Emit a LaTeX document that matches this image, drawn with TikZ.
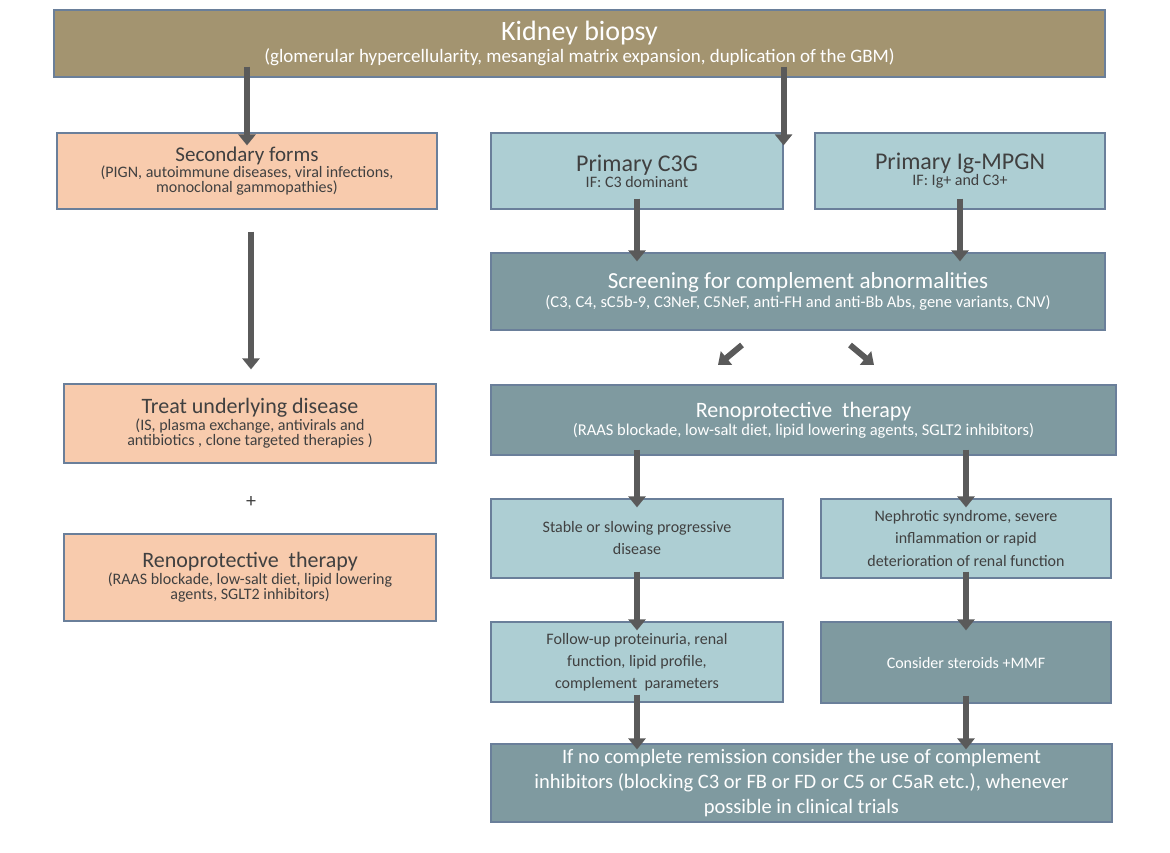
\documentclass[tikz,border=0pt]{standalone}
\usepackage{fontspec}
\setmainfont{Carlito}
\usetikzlibrary{arrows.meta}
\definecolor{brn}{HTML}{A39470}
\definecolor{pch}{HTML}{F8CBAD}
\definecolor{lt}{HTML}{ADCED3}
\definecolor{dk}{HTML}{7F9AA0}
\definecolor{bd}{HTML}{6A7F9A}
\definecolor{txt}{HTML}{404040}
\definecolor{arr}{HTML}{5A5A5A}
\tikzset{
 bx/.style={draw=bd,line width=1.2pt,inner sep=0pt,align=center,text=txt},
 blk/.style={arr,line width=6pt,-{Triangle[width=17pt,length=11pt]}},
}
\newcommand{\bxat}[7]{\node[bx,fill=#6,text=#7,minimum width={#4-#2},minimum height={#5-#3}] (#1) at ({(#2+#4)/2},{(#3+#5)/2}) {};}
\begin{document}
\begin{tikzpicture}[x=1pt,y=-1pt]
\useasboundingbox (0,0) rectangle (1170,853);
\bxat{kid}{54}{10}{1105}{77}{brn}{white}
\node[align=center,text=white] at (kid) {{\fontsize{28}{32}\selectfont Kidney biopsy}\\[2pt]{\fontsize{19}{22}\selectfont (glomerular hypercellularity, mesangial matrix expansion, duplication of the GBM)}};
\bxat{sec}{57}{133}{437}{209}{pch}{txt}
\node[align=center,text=txt] at (sec) {{\fontsize{21}{24}\selectfont Secondary forms}\\{\fontsize{16}{19}\selectfont (PIGN, autoimmune diseases, viral infections,}\\{\fontsize{16}{19}\selectfont monoclonal gammopathies)}};
\bxat{c3g}{491}{133}{783}{209}{lt}{txt}
\node[align=center,text=txt] at (c3g) {{\fontsize{24}{27}\selectfont Primary C3G}\\{\fontsize{16}{19}\selectfont IF: C3 dominant}};
\bxat{ig}{815}{133}{1105}{209}{lt}{txt}
\node[align=center,text=txt] at (ig) {{\fontsize{24}{27}\selectfont Primary Ig-MPGN}\\{\fontsize{16}{19}\selectfont IF: Ig+ and C3+}};
\bxat{scr}{491}{253}{1105}{330}{dk}{white}
\node[align=center,text=white] at (scr) {{\fontsize{23}{27}\selectfont Screening for complement abnormalities}\\[2pt]{\fontsize{16.5}{19}\selectfont (C3, C4, sC5b-9, C3NeF, C5NeF, anti-FH and anti-Bb Abs, gene variants, CNV)}};
\bxat{trt}{64}{384}{436}{463}{pch}{txt}
\node[align=center,text=txt] at (trt) {{\fontsize{22}{25}\selectfont Treat underlying disease}\\{\fontsize{16}{20}\selectfont (IS, plasma exchange, antivirals and}\\{\fontsize{16}{20}\selectfont antibiotics , clone targeted therapies )}};
\node[text=txt,font=\fontsize{20}{22}\selectfont] (plus) at (251,502) {+};
\bxat{rnl}{64}{534}{436}{621}{pch}{txt}
\node[align=center,text=txt] at (rnl) {{\fontsize{22}{25}\selectfont Renoprotective\ \ therapy}\\{\fontsize{16}{19}\selectfont (RAAS blockade, low-salt diet, lipid lowering}\\{\fontsize{16}{19}\selectfont agents, SGLT2 inhibitors)}};
\bxat{rnr}{491}{385}{1116}{455}{dk}{white}
\node[align=center,text=white] at (rnr) {{\fontsize{22}{25}\selectfont Renoprotective\ \ therapy}\\[1pt]{\fontsize{16.5}{19}\selectfont (RAAS blockade, low-salt diet, lipid lowering agents, SGLT2 inhibitors)}};
\bxat{stb}{491}{499}{783}{578}{lt}{txt}
\node[align=center,text=txt,font=\fontsize{16}{22}\selectfont] at (stb) {Stable or slowing progressive\\disease};
\bxat{nep}{821}{499}{1111}{578}{lt}{txt}
\node[align=center,text=txt,font=\fontsize{16}{22}\selectfont] at (nep) {Nephrotic syndrome, severe\\inflammation or rapid\\deterioration of renal function};
\bxat{fol}{491}{622}{783}{702}{lt}{txt}
\node[align=center,text=txt,font=\fontsize{16}{22}\selectfont] at (fol) {Follow-up proteinuria, renal\\function, lipid profile,\\complement\ \ parameters};
\bxat{con}{821}{622}{1111}{703}{dk}{white}
\node[align=center,text=white,font=\fontsize{16}{22}\selectfont] at (con) {Consider steroids +MMF};
\bxat{fin}{491}{744}{1112}{822}{dk}{white}
\node[align=center,text=white,font=\fontsize{20.5}{25}\selectfont] at (fin) {If no complete remission consider the use of complement\\inhibitors (blocking C3 or FB or FD or C5 or C5aR etc.), whenever\\possible in clinical trials};
% arrows
\draw[blk] ([yshift=11]kid.south -| sec.north) -- ([yshift=-13]sec.north);
\draw[blk] ([yshift=11]kid.south -| c3g.north east) -- ([yshift=-13]c3g.north east);
\draw[blk] ([yshift=11]c3g.south) -- ([yshift=-9]c3g.south |- scr.north);
\draw[blk] ([yshift=11]ig.south) -- ([yshift=-9]ig.south |- scr.north);
\draw[blk] ([shift={(4,22)}]sec.south) -- ([shift={(4,-14)}]sec.south |- trt.north);
\coordinate (d1) at (742,345); \coordinate (d2) at (850,345);
\draw[blk] (d1) -- ++(-24,20);
\draw[blk] (d2) -- ++(24,20);
\draw[blk] ([yshift=6]rnr.south -| stb.north) -- ([yshift=-9]stb.north);
\draw[blk] ([yshift=6]rnr.south -| nep.north) -- ([yshift=-9]nep.north);
\draw[blk] ([yshift=7]stb.south) -- ([yshift=-9]fol.north);
\draw[blk] ([yshift=7]nep.south) -- ([yshift=-9]con.north);
\draw[blk] ([yshift=8]fol.south) -- ([yshift=-6]fol.south |- fin.north);
\draw[blk] ([yshift=8]con.south) -- ([yshift=-6]con.south |- fin.north);
\end{tikzpicture}
\end{document}
